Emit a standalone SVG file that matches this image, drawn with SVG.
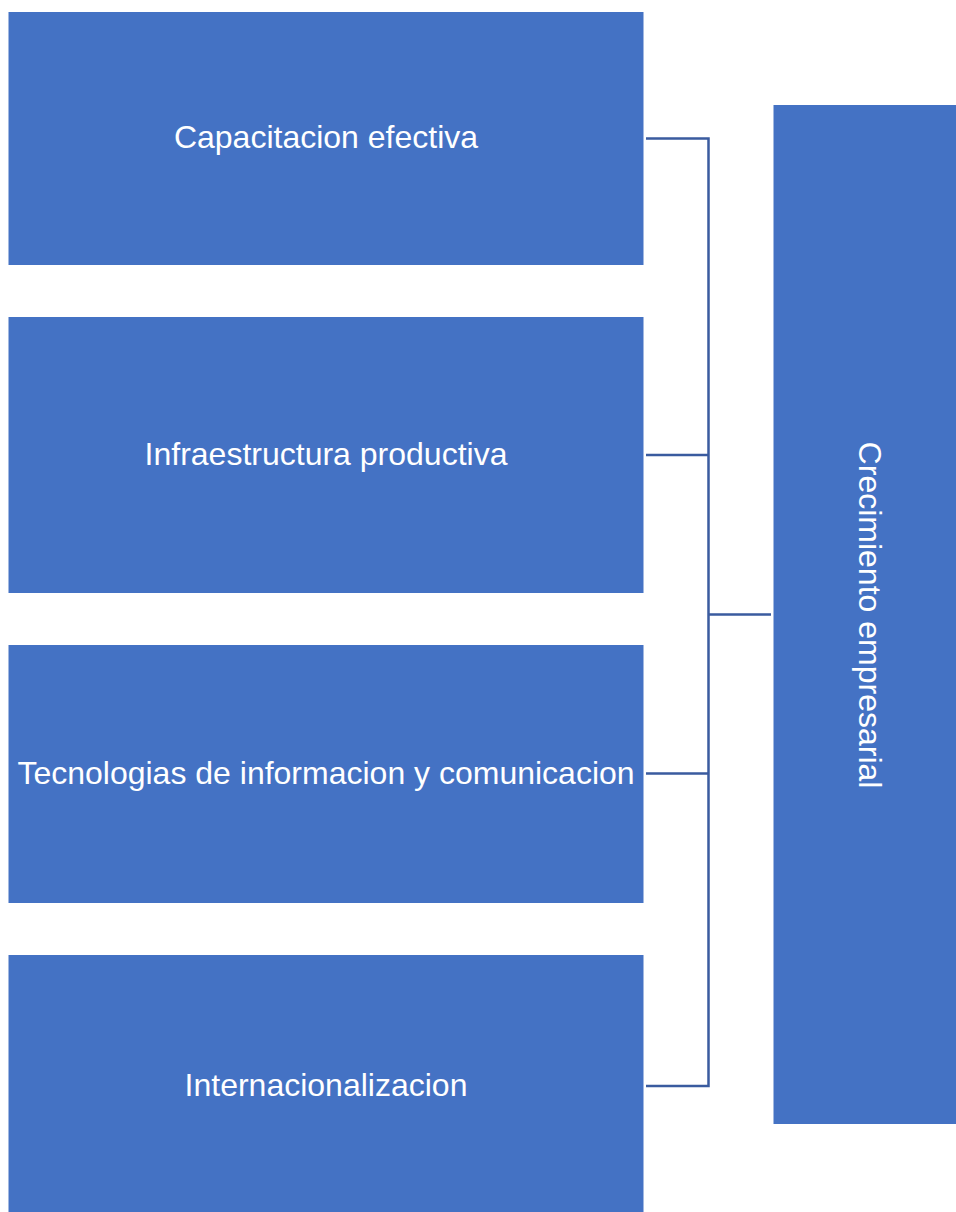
<svg xmlns="http://www.w3.org/2000/svg" width="956" height="1212" viewBox="0 0 956 1212">
<style>
.box{fill:#4472C4}
.lbl{fill:#FFFFFF;font-family:"Liberation Sans",Arial,sans-serif;font-size:32px;text-anchor:middle;dominant-baseline:central}
.conn{stroke:#3A5B9F;stroke-width:2.5;fill:none}
</style>
<rect width="956" height="1212" fill="#FFFFFF"/>
<g id="connectors">
<path class="conn" d="M646 138.5H708.5V1086H646M646 455H708.5M646 773.5H708.5M708.5 614.5H771"/>
</g>
<g id="node-capacitacion">
<rect class="box" x="8.5" y="12" width="635" height="253"/>
<text class="lbl" x="326" y="137">Capacitacion efectiva</text>
</g>
<g id="node-infraestructura">
<rect class="box" x="8.5" y="317" width="635" height="276"/>
<text class="lbl" x="326" y="454">Infraestructura productiva</text>
</g>
<g id="node-tecnologias">
<rect class="box" x="8.5" y="645" width="635" height="258"/>
<text class="lbl" x="326" y="773">Tecnologias de informacion y comunicacion</text>
</g>
<g id="node-internacionalizacion">
<rect class="box" x="8.5" y="955" width="635" height="257"/>
<text class="lbl" x="326" y="1085">Internacionalizacion</text>
</g>
<g id="node-crecimiento">
<rect class="box" x="773.5" y="105" width="182.5" height="1019"/>
<text class="lbl" transform="translate(870 615) rotate(90)" x="0" y="0">Crecimiento empresarial</text>
</g>
</svg>
